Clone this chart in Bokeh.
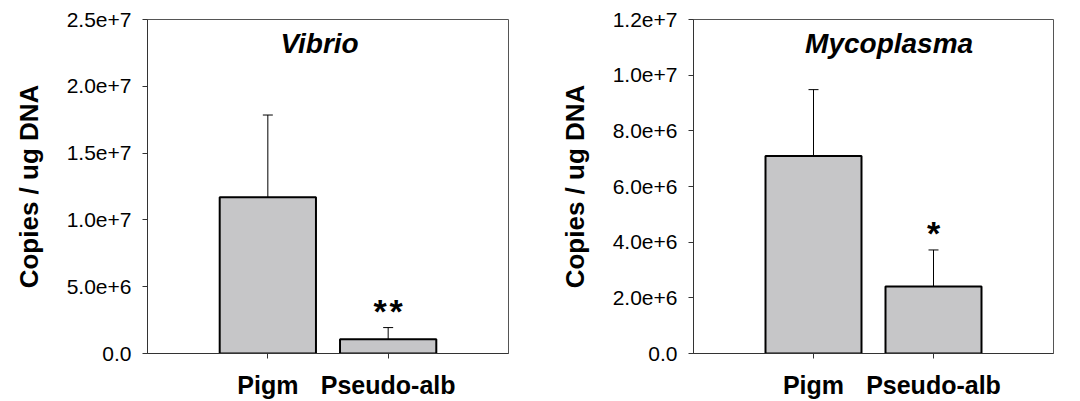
from bokeh.plotting import figure
from bokeh.models import FactorRange, Range1d, FixedTicker, Whisker, ColumnDataSource, Label, TeeHead
from bokeh.layouts import row
from bokeh.embed import file_html
from bokeh.resources import INLINE
from bokeh.core.properties import value

categories = ["Pigm", "Pseudo-alb"]

vibrio_mean = [1.17e7, 1.07e6]
vibrio_err = [6.15e6, 0.87e6]
vibrio_sig = ["", "**"]
vibrio_ticks = [0, 5e6, 1e7, 1.5e7, 2e7, 2.5e7]
vibrio_tick_labels = ["0.0", "5.0e+6", "1.0e+7", "1.5e+7", "2.0e+7", "2.5e+7"]

myco_mean = [7.10e6, 2.41e6]
myco_err = [2.38e6, 1.31e6]
myco_sig = ["", "*"]
myco_ticks = [0, 2e6, 4e6, 6e6, 8e6, 1e7, 1.2e7]
myco_tick_labels = ["0.0", "2.0e+6", "4.0e+6", "6.0e+6", "8.0e+6", "1.0e+7", "1.2e+7"]

FONT = "Liberation Sans"
BAR_FILL = "#c6c6c8"


def panel(title, mean, err, sig, ticks, tick_labels, width, bl, br, title_x):
    ymax = ticks[-1]
    upper = [m + e for m, e in zip(mean, err)]
    sig_txt = ["\u200a".join(s) for s in sig]
    src = ColumnDataSource(dict(cat=categories, mean=mean, upper=upper, sig=sig_txt))
    p = figure(x_range=FactorRange(*categories, range_padding=0.5, range_padding_units="absolute"),
               y_range=Range1d(0, ymax), width=width, height=401,
               output_backend="svg", toolbar_location=None,
               min_border_left=bl, min_border_right=br, min_border_top=19, min_border_bottom=46)
    p.vbar(x="cat", top="mean", width=0.8, source=src, fill_color=BAR_FILL,
           line_color="black", line_width=2)
    w = Whisker(source=src, base="cat", upper="upper", lower="mean", lower_head=None,
                upper_head=TeeHead(size=10, line_color="black", line_width=1),
                line_color="black", line_width=1)
    p.add_layout(w)
    p.text(x="cat", y="upper", text="sig", source=src, text_align="center",
           text_baseline="alphabetic", y_offset=-17, text_font=value(FONT),
           text_font_style="bold", text_font_size="34px", text_color="black")
    p.add_layout(Label(x=title_x, y=ymax * (1 - 24 / 336), text=title, text_align="center",
                       text_baseline="middle", text_font=FONT, text_font_style="bold italic",
                       text_font_size="28px", text_color="black"))
    p.xgrid.visible = False
    p.ygrid.visible = False
    p.outline_line_color = "#555555"
    p.outline_line_width = 1
    p.yaxis.ticker = FixedTicker(ticks=ticks)
    p.yaxis.major_label_overrides = {t: l for t, l in zip(ticks, tick_labels)}
    p.yaxis.axis_label = "Copies / ug DNA"
    p.yaxis.axis_label_text_font = FONT
    p.yaxis.axis_label_text_font_style = "bold"
    p.yaxis.axis_label_text_font_size = "26px"
    p.yaxis.axis_label_text_color = "black"
    p.yaxis.axis_label_standoff = 20
    p.yaxis.major_label_text_font = FONT
    p.yaxis.major_label_text_font_size = "21px"
    p.yaxis.major_label_text_color = "black"
    p.yaxis.major_label_standoff = 11
    p.xaxis.major_label_text_font = FONT
    p.xaxis.major_label_text_font_style = "bold"
    p.xaxis.major_label_text_font_size = "25px"
    p.xaxis.major_label_text_color = "black"
    p.xaxis.major_label_standoff = 12
    for ax in (p.xaxis, p.yaxis):
        ax.axis_line_color = "#333333"
        ax.major_tick_line_color = "#333333"
        ax.major_tick_out = 5
        ax.major_tick_in = 0
        ax.minor_tick_line_color = None
    return p


p1 = panel("Vibrio", vibrio_mean, vibrio_err, vibrio_sig, vibrio_ticks, vibrio_tick_labels,
           548, 147, 40, 0.93)
p2 = panel("Mycoplasma", myco_mean, myco_err, myco_sig, myco_ticks, myco_tick_labels,
           525, 145, 20, 1.13)

layout = row(p1, p2)
open("out.html", "w").write(file_html(layout, INLINE))
